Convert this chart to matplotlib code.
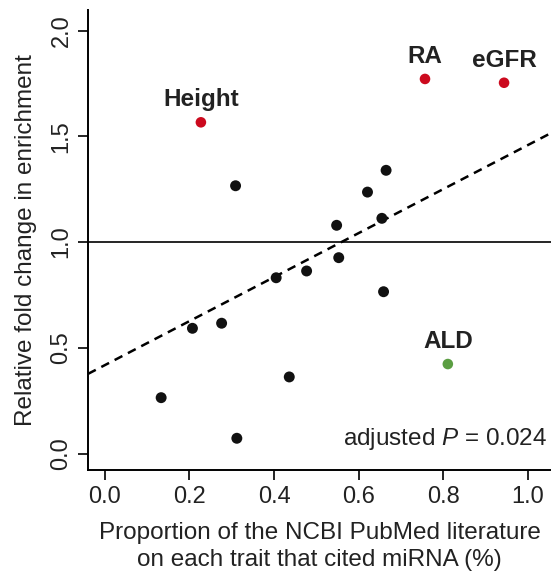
import numpy as np
import matplotlib.pyplot as plt

plt.rcParams['font.family'] = ['Liberation Sans', 'DejaVu Sans']
plt.rcParams['mathtext.fontset'] = 'custom'
plt.rcParams['mathtext.rm'] = 'Liberation Sans'
plt.rcParams['mathtext.it'] = 'Liberation Sans:italic'

# other traits (black)
x_other = [0.133, 0.207, 0.276, 0.312, 0.309, 0.405, 0.436, 0.477, 0.548, 0.553, 0.621, 0.655, 0.659, 0.665]
y_other = [0.264, 0.592, 0.616, 0.072, 1.266, 0.831, 0.362, 0.863, 1.079, 0.926, 1.236, 1.112, 0.765, 1.339]

# highlighted traits
hi_names = ["Height", "RA", "eGFR"]
hi_x = [0.227, 0.757, 0.944]
hi_y = [1.566, 1.771, 1.753]

lo_names = ["ALD"]
lo_x = [0.811]
lo_y = [0.423]

# regression line
intercept = 0.418
slope = 1.04

xticks = [0.0, 0.2, 0.4, 0.6, 0.8, 1.0]
yticks = [0.0, 0.5, 1.0, 1.5, 2.0]

fs = 17.5
fig = plt.figure(figsize=(5.51, 5.75), dpi=100)
ax = fig.add_axes([88/551, 1-470/575, 1-88/551, 460/575])

ax.axhline(1.0, color='black', lw=1.2, zorder=1)
ax.axline((0, intercept), slope=slope, color='black', lw=1.8, ls=(0, (3.5, 2.5)), zorder=1)

ax.scatter(x_other, y_other, s=62, color='#111111', edgecolors='none', zorder=3)
ax.scatter(hi_x, hi_y, s=58, color='#cc0a1e', edgecolors='none', zorder=3)
ax.scatter(lo_x, lo_y, s=58, color='#5b9e42', edgecolors='none', zorder=3)

for name, x, y in zip(hi_names + lo_names, hi_x + lo_x, hi_y + lo_y):
    ax.annotate(name, (x, y), xytext=(0, 11.5), textcoords='offset points',
                ha='center', va='baseline', fontsize=fs, fontweight='bold', color='#222222')

ax.text(1.045, 0.04, r'adjusted $\it{P}$ = 0.024', ha='right', va='baseline', fontsize=fs, color='#222222')

ax.set_xlim(-0.04, 1.055)
ax.set_ylim(-0.078, 2.097)
ax.set_xticks(xticks)
ax.set_yticks(yticks)
ax.set_xticklabels(["%.1f" % v for v in xticks], fontsize=17, color='#222222')
ax.set_yticklabels(["%.1f" % v for v in yticks], fontsize=17, color='#222222', rotation=90, va='center')
ax.tick_params(length=7.2, width=1.2, pad=4)

for s in ['top', 'right']:
    ax.spines[s].set_visible(False)
for s in ['left', 'bottom']:
    ax.spines[s].set_linewidth(1.4)

ax.set_xlabel("Proportion of the NCBI PubMed literature\non each trait that cited miRNA (%)",
              fontsize=fs, color='#222222', labelpad=10.5, linespacing=1.3)
ax.set_ylabel("Relative fold change in enrichment", fontsize=fs, color='#222222', labelpad=10)

fig.savefig("out.png", dpi=100)
